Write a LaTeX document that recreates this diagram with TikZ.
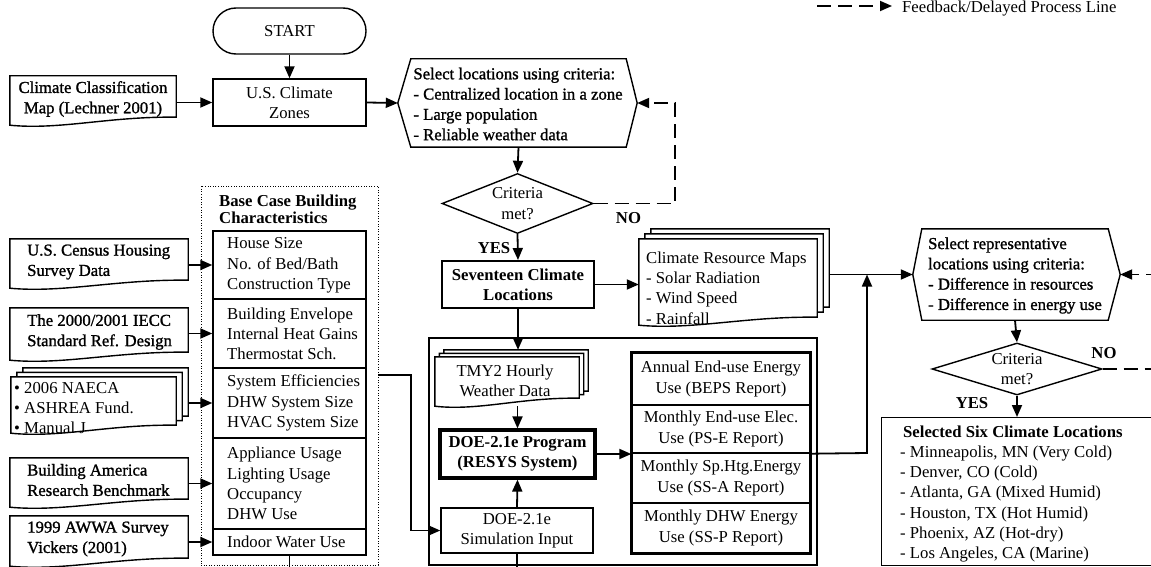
\documentclass[tikz,border=0pt]{standalone}
\usepackage{fontspec}
\setmainfont{Liberation Serif}
\newfontfamily\heavyfont[FakeBold=1.2]{Liberation Serif}
\usetikzlibrary{arrows.meta,calc,shapes.geometric,shapes.misc}
\newcommand\fsz{\fontsize{16.7pt}{20.3pt}\selectfont}

\tikzset{
  every node/.style={inner sep=0pt, font=\fsz},
  plainbox/.style={draw, line width=1.4pt, fill=white, align=center},
  shell/.style={inner sep=0pt, draw=none},
  heavy/.style={font=\heavyfont\fsz},
  boldtext/.style={font=\bfseries\fsz},
  conn/.style={line width=1.8pt, -{Triangle[length=12pt,width=10pt]}},
  link/.style={line width=1.8pt},
  fbline/.style={line width=1.8pt, dash pattern=on 14pt off 7pt},
  fbconn/.style={fbline, -{Triangle[length=12pt,width=10pt]}},
  outline/.style={line width=1.4pt, fill=white, line join=miter},
}

% document symbol: straight top and sides, wavy bottom edge
\newcommand\docoutline[2][]{%
  \draw[outline,#1] (#2.north west) -- (#2.south west)
    .. controls ($(#2.south west)!0.3!(#2.south east)+(0pt,-5pt)$)
       and ($(#2.south west)!0.6!(#2.south east)+(0pt,9pt)$)
    .. ($(#2.south east)+(0pt,8pt)$) -- (#2.north east) -- cycle;}
% stack of three documents, copies offset up and to the right
\newcommand\stackoutline[3]{%
  \docoutline[transform canvas={shift={(2*#2,2*#3)}}]{#1}%
  \docoutline[transform canvas={shift={(#2,#3)}}]{#1}%
  \docoutline{#1}}

\begin{document}
\begin{tikzpicture}[x=1pt,y=-1pt]
\useasboundingbox (0,0) rectangle (1151,567);
\clip (0,0) rectangle (1151,567);

% legend
\coordinate (lgA) at (817,6);
\coordinate (lgB) at (892,6);
\draw[fbconn] (lgA) -- (lgB);
\node[anchor=base west] (lgT) at (902,13) {Feedback/Delayed Process Line};

% start and climate zones
\node[plainbox, rounded rectangle, minimum width=153pt, minimum height=46pt] (start) at (289.5,31) {START};
\node[plainbox, minimum width=153pt, minimum height=47pt] (zones) at (289.5,102.5) {U.S. Climate\\Zones};

\node[shell, minimum width=166pt, minimum height=49pt] (classdoc) at (93,100.5) {};
\docoutline{classdoc}
\node[heavy, align=center] (classdocT) at (93,99) {Climate Classification\\Map (Lechner 2001)};

% first selection step
\node[shell, minimum width=215pt, minimum height=88pt] (sel) at (518.5,103) {};
\draw[outline] (sel.north west) -- (sel.north east) -- ($(sel.east)+(11pt,0pt)$) coordinate (selR)
  -- (sel.south east) -- (sel.south west) -- ($(sel.west)+(-13pt,0pt)$) coordinate (selL) -- cycle;
\node[heavy, align=left] (selT) at (518,104) {Select locations using criteria:\\- Centralized location in a zone\\- Large population\\- Reliable weather data};

\node[plainbox, diamond, aspect=2.5, minimum width=151pt, minimum height=60pt] (d1) at (517.5,203.5) {Criteria\\met?};
\node[boldtext] (no1) at (628.5,218) {NO};
\node[boldtext] (yes1) at (494,248) {YES};

\node[plainbox, line width=2pt, boldtext, minimum width=152pt, minimum height=47pt] (seventeen) at (518,284.5) {Seventeen Climate\\Locations};

% climate resource maps
\node[shell, minimum width=178pt, minimum height=86pt] (maps) at (728,282) {};
\stackoutline{maps}{6pt}{5pt}
\node[align=left, anchor=west] (mapsT) at (646,288) {Climate Resource Maps\\- Solar Radiation\\- Wind Speed\\- Rainfall};

% second selection step
\node[shell, minimum width=186pt, minimum height=91pt] (hex2) at (1015,274.5) {};
\draw[outline] (hex2.north west) -- (hex2.north east) -- ($(hex2.east)+(12pt,0pt)$) coordinate (hex2R)
  -- (hex2.south east) -- (hex2.south west) -- ($(hex2.west)+(-9pt,0pt)$) coordinate (hex2L) -- cycle;
\node[heavy, align=left] (hex2T) at (1015,275.5) {Select representative\\locations using criteria:\\- Difference in resources\\- Difference in energy use};

\node[plainbox, diamond, aspect=3.27, minimum width=170pt, minimum height=52pt] (d2) at (1017,369) {Criteria\\met?};
\node[boldtext] (no2) at (1104,353) {NO};
\node[boldtext] (yes2) at (972,403) {YES};

\node[plainbox, anchor=north west, minimum width=290pt, minimum height=148pt] (selected) at (881,417) {};
\node[align=left, anchor=west] (selectedT) at (900,494) {\hspace*{3pt}\textbf{Selected Six Climate Locations}\\- Minneapolis, MN (Very Cold)\\- Denver, CO (Cold)\\- Atlanta, GA (Mixed Humid)\\- Houston, TX (Hot Humid)\\- Phoenix, AZ (Hot-dry)\\- Los Angeles, CA (Marine)};

% base case building characteristics
\node[draw, line width=0.9pt, dash pattern=on 1pt off 1.6pt, minimum width=177pt, minimum height=379pt] (basecase) at (289.5,375.5) {};
\node[align=left, anchor=west, font=\bfseries\fontsize{16.7pt}{17pt}\selectfont] (basecaseT) at (219,209) {Base Case Building\\Characteristics};
\node[plainbox, minimum width=153pt, minimum height=68pt] (b1) at (289.5,265) {};
\node[plainbox, minimum width=153pt, minimum height=69pt] (b2) at (289.5,333.5) {};
\node[plainbox, minimum width=153pt, minimum height=70pt] (b3) at (289.5,403) {};
\node[plainbox, minimum width=153pt, minimum height=91pt] (b4) at (289.5,483.5) {};
\node[plainbox, minimum width=153pt, minimum height=26pt] (b5) at (289.5,542) {};
\node[align=left, anchor=west] (b1T) at (227,265.5) {House Size\\No. of Bed/Bath\\Construction Type};
\node[align=left, anchor=west] (b2T) at (227,334) {Building Envelope\\Internal Heat Gains\\Thermostat Sch.};
\node[align=left, anchor=west] (b3T) at (227,403) {System Efficiencies\\DHW System Size\\HVAC System Size};
\node[align=left, anchor=west] (b4T) at (227,483.5) {Appliance Usage\\Lighting Usage\\Occupancy\\DHW Use};
\node[anchor=west] (b5T) at (227,542) {Indoor Water Use};

% data sources
\node[shell, minimum width=178pt, minimum height=49pt] (census) at (99,263.5) {};
\docoutline{census}
\node[heavy, align=left, anchor=west] (censusT) at (27,262) {U.S. Census Housing\\Survey Data};
\node[shell, minimum width=178pt, minimum height=52pt] (iecc) at (99,334) {};
\docoutline{iecc}
\node[heavy, align=left, anchor=west] (ieccT) at (27,332) {The 2000/2001 IECC\\Standard Ref. Design};
\node[shell, minimum width=165pt, minimum height=56pt] (naeca) at (93.5,405) {};
\stackoutline{naeca}{6pt}{4.5pt}
\node[align=left, anchor=west] (naecaT) at (14,408) {• 2006 NAECA\\• ASHREA Fund.\\• Manual J};
\node[shell, minimum width=178pt, minimum height=49pt] (bam) at (99,482.5) {};
\docoutline{bam}
\node[heavy, align=left, anchor=west] (bamT) at (27,480) {Building America\\Research Benchmark};
\node[shell, minimum width=178pt, minimum height=50pt] (awwa) at (99,541) {};
\docoutline{awwa}
\node[heavy, align=left, anchor=west] (awwaT) at (27,539) {1999 AWWA Survey\\Vickers (2001)};

% simulation group
\node[draw, line width=1.4pt, minimum width=388pt, minimum height=227pt] (simgrp) at (623,451.5) {};
\node[shell, minimum width=144pt, minimum height=49pt] (tmy) at (507,381.5) {};
\stackoutline{tmy}{4.5pt}{3.5pt}
\node[align=center] (tmyT) at (505,381) {TMY2 Hourly\\Weather Data};
\node[plainbox, line width=3.2pt, boldtext, minimum width=155pt, minimum height=48pt] (doe) at (517.5,454) {DOE-2.1e Program\\(RESYS System)};
\node[plainbox, minimum width=152pt, minimum height=45pt] (sim) at (517,530.5) {DOE-2.1e\\Simulation Input};
\node[plainbox, minimum width=178pt, minimum height=52pt] (r1) at (721,379) {Annual End-use Energy\\Use (BEPS Report)};
\node[plainbox, minimum width=178pt, minimum height=48pt] (r2) at (721,429) {Monthly End-use Elec.\\Use (PS-E Report)};
\node[plainbox, minimum width=178pt, minimum height=50pt] (r3) at (721,478) {Monthly Sp.Htg.Energy\\Use (SS-A Report)};
\node[plainbox, minimum width=178pt, minimum height=50pt] (r4) at (721,528) {Monthly DHW Energy\\Use (SS-P Report)};
\draw[line width=3.2pt] (r1.north west) rectangle (r4.south east);

% connectors
\draw[conn] (start.south) -- (zones.north);
\draw[conn] (classdoc.east |- zones.west) -- (zones.west);
\draw[conn] (zones.east) -- (selL);
\draw[conn] (sel.south) -- (d1.north);
\coordinate (fb1) at (675,103);
\draw[fbconn] (d1.east) -| (fb1) -- (selR);
\draw[conn] (d1.south) -- (seventeen.north);
\draw[conn] (seventeen.east) -- (seventeen.east -| maps.west);
\draw[conn, shorten >=7pt] (seventeen.south) -- (seventeen.south |- tmy.north);
\draw[conn] (doe.north |- tmy.south) -- (doe.north);
\draw[conn] (sim.north) -- (doe.south);
\draw[conn] (doe.east) -- (doe.east -| r2.west);
\coordinate (up) at (867,453);
\draw[conn] (r2.south east) -- (up) -- (up |- hex2L);
\coordinate (mapsBack) at ($(maps.north east)+(12pt,0pt)$);
\draw[conn] (mapsBack |- hex2L) -- (hex2L);
\draw[conn] (hex2.south) -- (d2.north);
\coordinate (fb2a) at (1160,369);
\draw[fbline] (d2.east) -- (fb2a);
\coordinate (fb2b) at (1160,274.5);
\draw[fbconn] (fb2b) -- (hex2R);
\draw[conn] (d2.south) -- (d2.south |- selected.north);
\draw[conn] (census.east |- b1.west) -- (b1.west);
\draw[conn] (iecc.east |- b2.west) -- (b2.west);
\coordinate (naecaBack) at ($(naeca.east)+(12pt,0pt)$);
\draw[conn] (naecaBack |- b3.west) -- (b3.west);
\draw[conn] (bam.east |- b4.west) -- (b4.west);
\draw[conn] (awwa.east |- b5.west) -- (b5.west);
\coordinate (jog) at (411,375);
\draw[conn] (basecase.east |- jog) -- (jog) |- (sim.west);
\coordinate (bcOut) at (289.5,570);
\draw[link] (b5.south) -- (bcOut);
\coordinate (simOut) at (517,570);
\draw[link] (sim.south) -- (simOut);
\end{tikzpicture}
\end{document}
